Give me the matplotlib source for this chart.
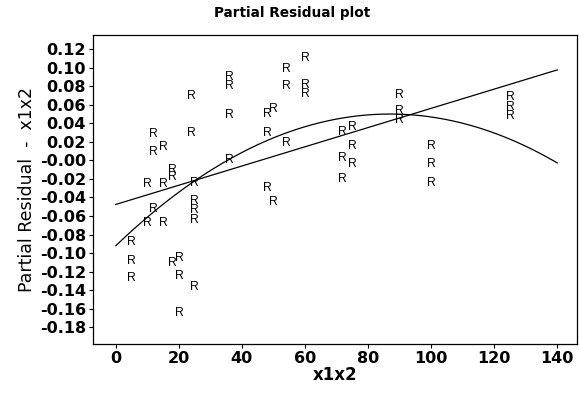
"""Partial residual plot for x1x2 with linear and quadratic fits."""
import numpy as np
import matplotlib
matplotlib.use("Agg")
import matplotlib.pyplot as plt

# partial residuals
x_vals = [60, 54, 36, 36, 54, 60, 60, 24, 36, 48, 50, 12, 24, 48, 54,
          12, 15, 36, 18, 18, 15, 10, 25, 12, 10, 15, 25, 25, 25,
          5, 5, 5, 18, 20, 20, 25, 20, 48, 50,
          90, 90, 90, 125, 125, 125, 72, 75, 75, 72, 75, 72,
          100, 100, 100]
y_vals = [0.110, 0.099, 0.090, 0.080, 0.080, 0.081, 0.072, 0.069, 0.049, 0.050,
          0.055, 0.028, 0.029, 0.030, 0.019, 0.009, 0.014, 0.000, -0.010, -0.018,
          -0.025, -0.026, -0.024, -0.052, -0.067, -0.067, -0.044, -0.054, -0.064,
          -0.088, -0.108, -0.127, -0.111, -0.105, -0.125, -0.136, -0.165, -0.030,
          -0.045, 0.070, 0.053, 0.044, 0.068, 0.058, 0.048, 0.031, 0.036, 0.015,
          0.003, -0.004, -0.020, 0.015, -0.004, -0.024]

# fitted curves (highest power first)
lin_coef = [0.001036, -0.0475]
quad_coef = [-1.876e-5, 0.003264, -0.092]
fit_range = (0, 140)

x_ticks = list(range(0, 141, 20))
y_ticks = [round(v, 2) for v in np.arange(-0.18, 0.121, 0.02)]

tick_font = dict(family="DejaVu Sans", weight="bold", size=11.5)


def main():
    fig = plt.figure(figsize=(5.8, 3.95), dpi=100)
    ax = fig.add_axes([0.160, 0.129, 0.835, 0.782])

    for xv, yv in zip(x_vals, y_vals):
        ax.text(xv, yv, "R", ha="center", va="center",
                fontsize=8.8, family="Liberation Sans", color="black")

    xx = np.linspace(fit_range[0], fit_range[1], 200)
    ax.plot(xx, np.polyval(lin_coef, xx), color="black", lw=0.9)
    ax.plot(xx, np.polyval(quad_coef, xx), color="black", lw=0.9)

    ax.set_xlim(-7.3, 146.3)
    ax.set_ylim(-0.198, 0.135)
    ax.set_xticks(x_ticks)
    ax.set_yticks(y_ticks)
    ax.set_xticklabels([str(t) for t in x_ticks], fontdict=tick_font)
    ax.set_yticklabels([f"{t:.2f}" for t in y_ticks], fontdict=tick_font)
    ax.tick_params(direction="out", length=3, width=0.8, pad=2)

    for sp in ax.spines.values():
        sp.set_linewidth(0.9)

    # title sits centred on the figure, not the axes
    fig.text(0.503, 0.968, "Partial Residual plot", ha="center", va="center",
             fontsize=9.8, weight="bold", family="DejaVu Sans")
    ax.set_xlabel("x1x2", fontsize=12, weight="bold", family="DejaVu Sans",
                  labelpad=0)
    ax.set_ylabel("Partial Residual  -  x1x2", fontsize=12.5,
                  family="DejaVu Sans", labelpad=3)

    fig.savefig("out.png", dpi=100)
    plt.close(fig)


if __name__ == "__main__":
    main()
